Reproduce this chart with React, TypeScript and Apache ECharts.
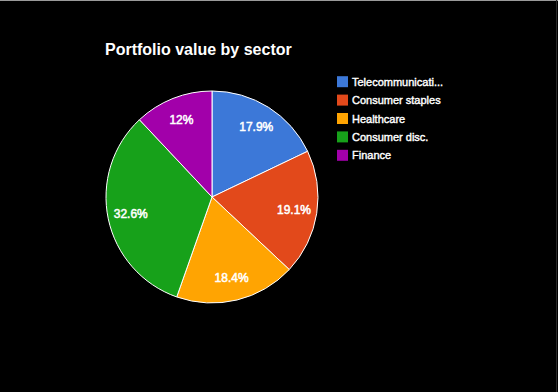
import React, { useEffect, useRef } from "react";
import * as echarts from "echarts";

const titleText = "Portfolio value by sector";
const sectors = ["Telecommunications", "Consumer staples", "Healthcare", "Consumer disc.", "Finance"];
const values = [17.9, 19.1, 18.4, 32.6, 12.0];
const colors = ["#3c78d8", "#e2491b", "#ffa402", "#17a11a", "#a200aa"];

export default function App() {
  const ref = useRef<HTMLDivElement>(null);
  useEffect(() => {
    if (!ref.current) return;
    const chart = echarts.init(ref.current, undefined, { renderer: "svg" });
    const data = sectors.map((name, i) => ({ name, value: values[i], itemStyle: { color: colors[i] } }));
    const center = [212, 197];
    const fmt = (p: any) => {
      const v = Math.round(p.percent * 10) / 10;
      return `${v}%`;
    };
    chart.setOption({
      animation: false,
      backgroundColor: "#000000",
      title: {
        text: titleText,
        left: 105,
        top: 41,
        padding: 0,
        textStyle: { color: "#ffffff", fontSize: 16, fontWeight: "bold", fontFamily: "Liberation Sans, Arial, sans-serif" },
      },
      legend: {
        orient: "vertical",
        left: 337,
        top: 76,
        padding: 0,
        itemWidth: 11,
        itemHeight: 11,
        itemGap: 7,
        icon: "rect",
        data: sectors,
        textStyle: {
          color: "#ffffff",
          fontSize: 11,
          fontFamily: "Liberation Sans, Arial, sans-serif",
          width: 94,
          overflow: "truncate",
          ellipsis: "...",
          padding: [0, 0, 0, -1],
          textBorderColor: "#ffffff",
          textBorderWidth: 0.4,
        },
        itemStyle: { borderWidth: 0 },
      },
      graphic: [
        { type: "line", shape: { x1: 0, y1: 0.5, x2: 558, y2: 0.5 }, style: { stroke: "#9a9a9a", lineWidth: 1 } },
        { type: "line", shape: { x1: 556.5, y1: 0, x2: 556.5, y2: 392 }, style: { stroke: "#2a2a2a", lineWidth: 1 } },
      ],
      series: [
        {
          type: "pie",
          center,
          radius: [0, 106],
          startAngle: 90,
          clockwise: true,
          data,
          label: { show: false },
          labelLine: { show: false },
          itemStyle: { borderColor: "#ffffff", borderWidth: 1 },
          emphasis: { disabled: true },
          silent: true,
        },
        {
          type: "pie",
          center,
          radius: [0, 160],
          startAngle: 90,
          clockwise: true,
          data: sectors.map((name, i) => ({ name, value: values[i] })),
          itemStyle: { color: "rgba(0,0,0,0)", borderWidth: 0 },
          label: {
            show: true,
            position: "inside",
            formatter: fmt,
            color: "#ffffff",
            fontSize: 12,
            fontFamily: "Liberation Sans, Arial, sans-serif",
            textBorderColor: "#ffffff",
            textBorderWidth: 0.5,
          },
          labelLine: { show: false },
          emphasis: { disabled: true },
          silent: true,
          legendHoverLink: false,
        },
      ],
    });
    return () => chart.dispose();
  }, []);
  return <div ref={ref} style={{ position: "fixed", left: 0, top: 0, width: 558, height: 392 }} />;
}
